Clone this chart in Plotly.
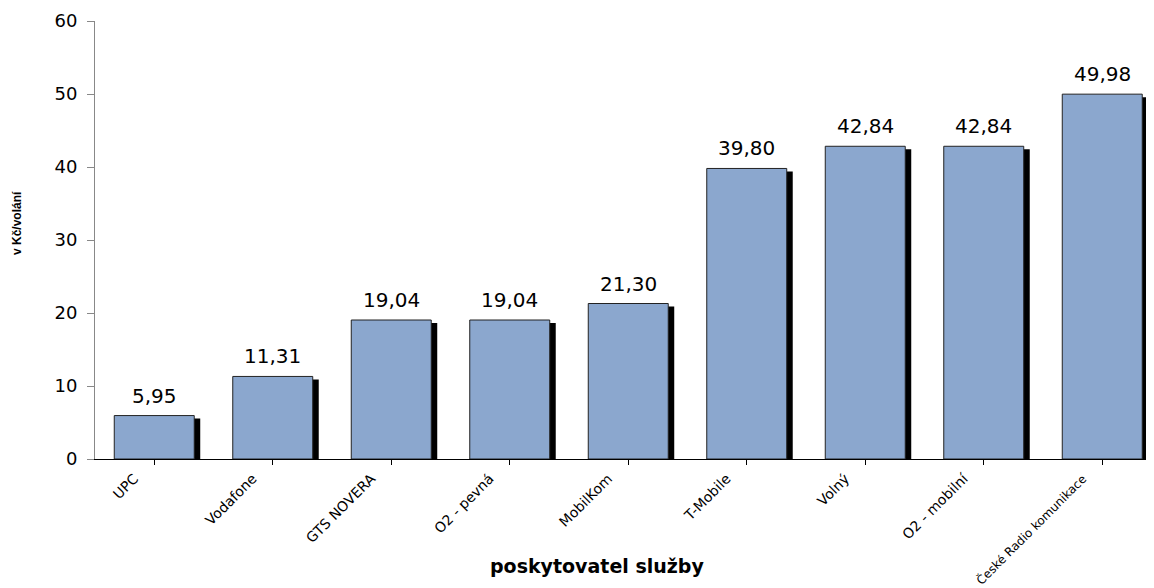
import plotly.graph_objects as go

categories = ["UPC", "Vodafone", "GTS NOVERA", "O2 - pevná", "MobilKom",
              "T-Mobile", "Volný", "O2 - mobilní", "České Radio komunikace"]
values = [5.95, 11.31, 19.04, 19.04, 21.30, 39.80, 42.84, 42.84, 49.98]

# page body has an 8px margin, so the figure is drawn at screen offset (8, 8)
W, H = 1146, 580
ml, mr, mt, mb = 87, 0, 13, 129
bw = 0.675
pxu = 118.5
shadow_dx = 6 / pxu
plot_h = H - mt - mb
shadow_dy = 3 * 60 / plot_h

x_idx = list(range(len(categories)))
tick_text = [c if len(c) < 16 else '<span style="font-size:12px">' + c + '</span>'
             for c in categories]

fig = go.Figure()
fig.add_trace(go.Bar(
    x=x_idx, y=[v - shadow_dy for v in values],
    width=bw, offset=-bw / 2 + shadow_dx,
    marker=dict(color="black", line=dict(width=0)),
    hoverinfo="skip", showlegend=False))
fig.add_trace(go.Bar(
    x=x_idx, y=values, width=bw, offset=-bw / 2,
    marker=dict(color="#8BA7CE", line=dict(color="#222222", width=1)),
    showlegend=False))

for xi, v in zip(x_idx, values):
    fig.add_annotation(x=xi, y=v, xref="x", yref="y",
                       text=f"{v:.2f}".replace(".", ","), showarrow=False,
                       yanchor="bottom", xanchor="center", yshift=6,
                       font=dict(family="DejaVu Sans", size=20, color="black"))

plot_w = W - ml - mr
right = -0.5 + plot_w / pxu

fig.update_layout(
    width=W, height=H, barmode="overlay", separators=", ",
    margin=dict(l=ml, r=mr, t=mt, b=mb, autoexpand=False),
    paper_bgcolor="white", plot_bgcolor="white",
    font=dict(family="DejaVu Sans", color="black"),
    xaxis=dict(range=[-0.5, right], tickmode="array", tickvals=x_idx,
               ticktext=tick_text, tickangle=-45, tickson="boundaries",
               ticks="outside", ticklen=5, tickcolor="black",
               showline=True, linecolor="black", linewidth=1,
               showgrid=False, automargin=False, ticklabelshift=-20,
               tickfont=dict(size=14, family="DejaVu Sans")),
    yaxis=dict(range=[0, 60], dtick=10, ticks="outside", ticklen=7,
               tickcolor="#888888", showline=True, linecolor="#888888",
               linewidth=1, showgrid=False, zeroline=False, automargin=False,
               ticklabelstandoff=6,
               tickfont=dict(size=18, family="DejaVu Sans")),
)
fig.add_annotation(text="<b>v Kč/volání</b>", textangle=-90, xref="paper", yref="paper",
                   x=(9 - ml) / plot_w, y=(451 - 215) / plot_h, showarrow=False,
                   xanchor="center", yanchor="middle",
                   font=dict(size=12, family="Liberation Sans Narrow, Liberation Sans"))
fig.add_annotation(text="<b>poskytovatel služby</b>", xref="paper", yref="paper",
                   x=(589 - ml) / plot_w, y=-(558 - 451) / plot_h, showarrow=False,
                   font=dict(size=19, family="DejaVu Sans"), xanchor="center",
                   yanchor="middle")

fig.write_html("out.html")
